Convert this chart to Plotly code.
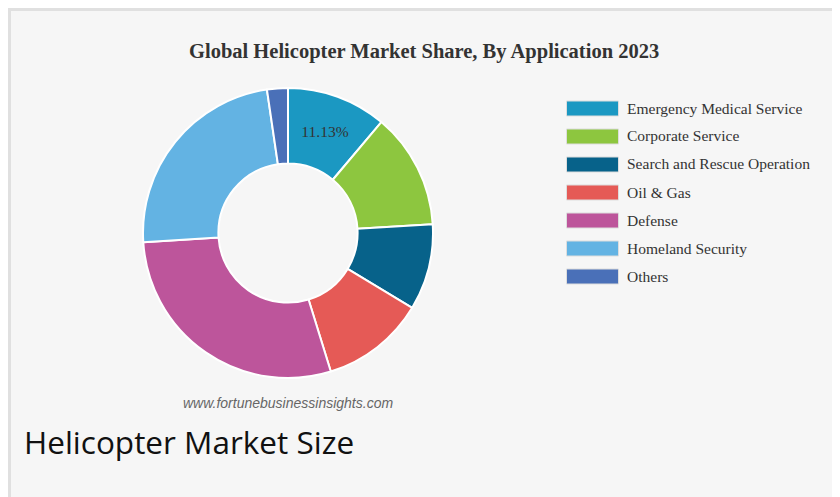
import plotly.graph_objects as go

W, H = 832, 489   # page body has an 8px margin inside the 840x497 window
OFF = 8

categories = ["Emergency Medical Service", "Corporate Service", "Search and Rescue Operation",
              "Oil & Gas", "Defense", "Homeland Security", "Others"]
shares = [11.13, 12.9, 9.6, 11.6, 28.75, 23.7, 2.32]
colors = ["#1b98c2", "#8dc63f", "#07628a", "#e55a56", "#bd559b", "#63b3e3", "#4a70b8"]
shown_label = [True, False, False, False, False, False, False]

title_text = "Global Helicopter Market Share, By Application 2023"
source_text = "www.fortunebusinessinsights.com"
caption_text = "Helicopter Market Size"

def px_x(x):
    return (x - OFF) / W

def px_y(y):
    return 1 - (y - OFF) / H

fig = go.Figure()

fig.add_trace(go.Pie(
    labels=categories,
    values=shares,
    sort=False,
    direction="clockwise",
    rotation=0,
    hole=0.48,
    marker=dict(colors=colors, line=dict(color="#ffffff", width=2)),
    texttemplate=["%{value:.2f}%" if s else "" for s in shown_label],
    textposition="inside",
    insidetextorientation="horizontal",
    textfont=dict(family="Liberation Serif", size=15.5, color="#333333"),
    domain=dict(x=[px_x(143), px_x(433)], y=[px_y(378), px_y(88)]),
    showlegend=False,
    hoverinfo="label+percent",
))

shapes = [
    dict(type="rect", xref="paper", yref="paper",
         x0=px_x(9.5), x1=px_x(836.5), y0=px_y(510), y1=px_y(9.5),
         fillcolor="#f6f6f6", line=dict(color="#e0e0e0", width=3), layer="below"),
]
annotations = [
    dict(text="<b>" + title_text + "</b>", x=px_x(424), y=px_y(52), xref="paper", yref="paper",
         showarrow=False, xanchor="center", yanchor="middle",
         font=dict(family="Liberation Serif", size=20.5, color="#333333")),
    dict(text="<i>" + source_text + "</i>", x=px_x(288), y=px_y(403), xref="paper", yref="paper",
         showarrow=False, xanchor="center", yanchor="middle",
         font=dict(family="Liberation Sans", size=14, color="#666666")),
    dict(text=caption_text, x=px_x(22), y=px_y(441), xref="paper", yref="paper",
         showarrow=False, xanchor="left", yanchor="middle",
         font=dict(family="Open Sans", size=31.5, color="#111111")),
]

# legend (swatch + label per category)
leg_x0, leg_x1, leg_y0, leg_step, sw_h = 566.5, 618.5, 108.5, 28, 15
for i, (cat, col) in enumerate(zip(categories, colors)):
    cy = leg_y0 + i * leg_step
    shapes.append(dict(type="rect", xref="paper", yref="paper",
                       x0=px_x(leg_x0), x1=px_x(leg_x1),
                       y0=px_y(cy + sw_h / 2), y1=px_y(cy - sw_h / 2),
                       fillcolor=col, line=dict(color="#dddddd", width=1)))
    annotations.append(dict(text=cat, x=px_x(625), y=px_y(cy - 0.5), xref="paper", yref="paper",
                            showarrow=False, xanchor="left", yanchor="middle",
                            font=dict(family="Liberation Serif", size=15.5, color="#333333")))

fig.update_layout(
    width=W, height=H,
    margin=dict(l=0, r=0, t=0, b=0),
    paper_bgcolor="#ffffff",
    plot_bgcolor="#ffffff",
    shapes=shapes,
    annotations=annotations,
    showlegend=False,
)

fig.write_html("out.html")
